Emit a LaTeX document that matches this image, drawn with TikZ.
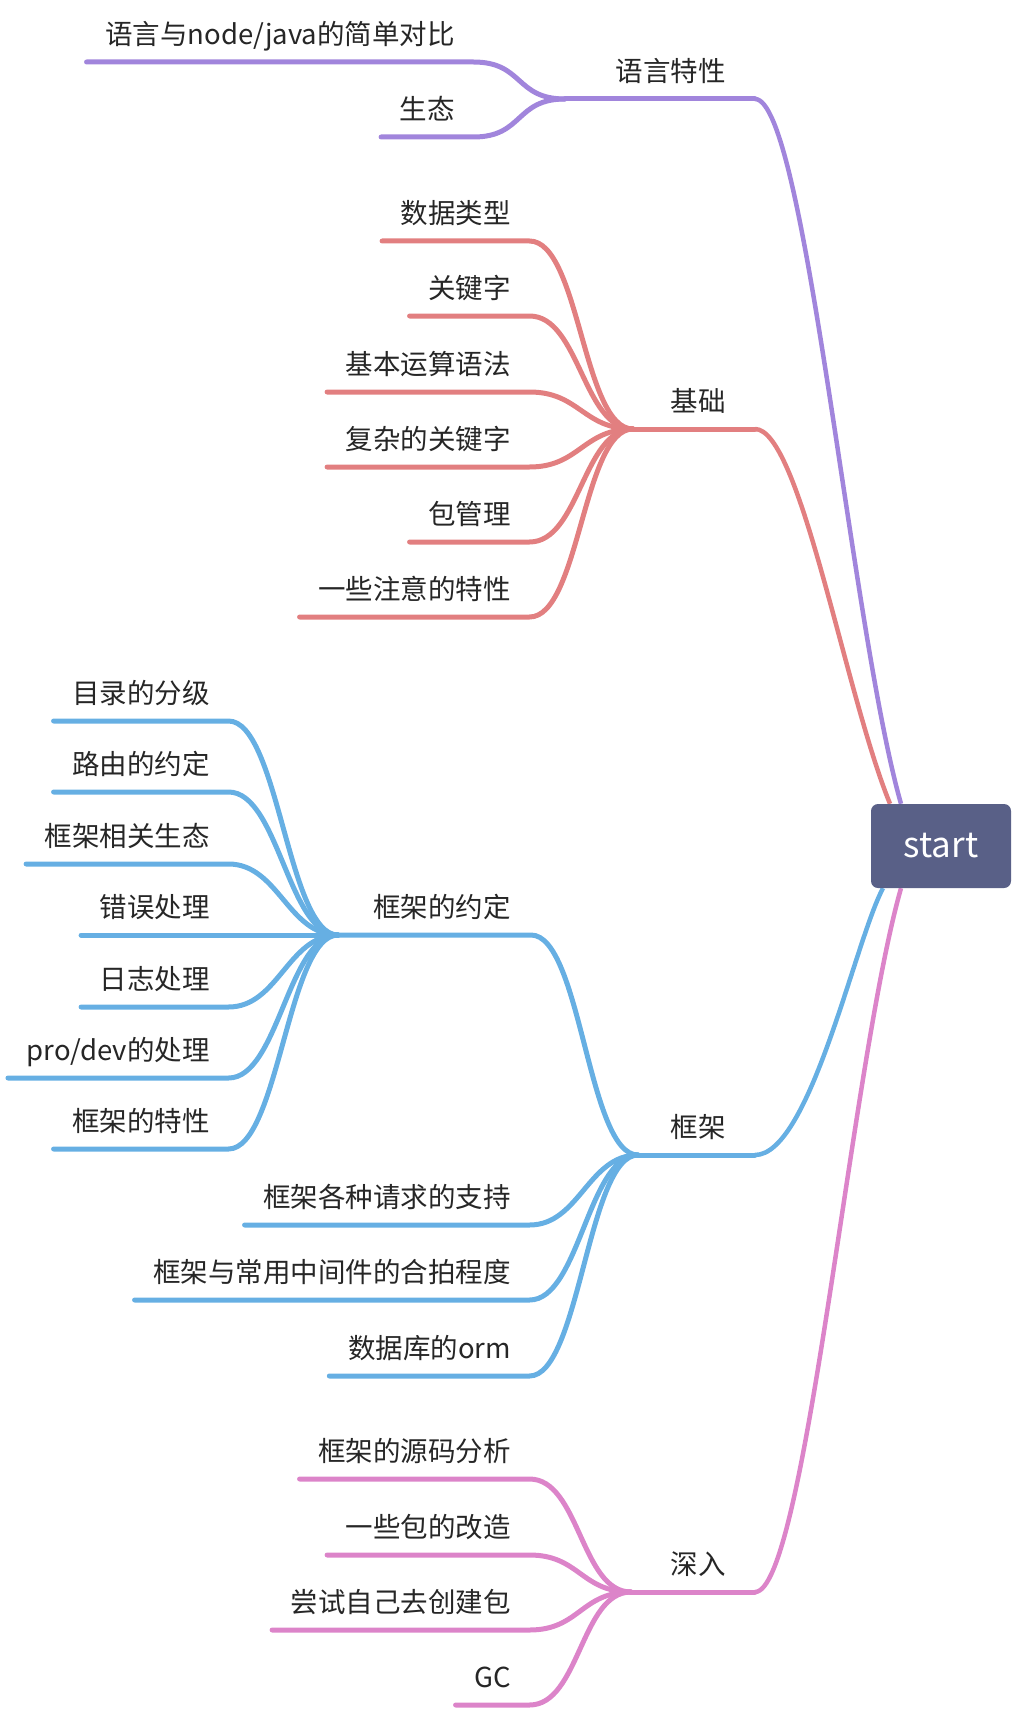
\documentclass[tikz,border=0pt]{standalone}
\usepackage{fontspec}
\setmainfont{Noto Sans CJK SC}
\usetikzlibrary{calc,backgrounds}
\definecolor{lilac}{HTML}{A185DC}
\definecolor{salmon}{HTML}{E27F80}
\definecolor{sky}{HTML}{66AFE3}
\definecolor{orchid}{HTML}{DC84C9}
\definecolor{rootblue}{HTML}{596087}
\definecolor{inkgray}{HTML}{262626}
\tikzset{
  txt/.style={font=\fontsize{27.5pt}{33pt}\selectfont, text=inkgray, inner ysep=0pt,
    text height=21pt, text depth=17.5pt, anchor=south east},
  leaf/.style={txt, inner xsep=18.5pt},
  mid/.style={txt, inner xsep=20pt},
  topic/.style={txt, inner xsep=29pt},
  root/.style={fill=rootblue, rounded corners=7pt, minimum width=140pt, minimum height=84pt,
    inner sep=0pt, text=white, font=\fontsize{35pt}{40pt}\selectfont},
  branch/.style={line width=5pt, line cap=round},
  trunk/.style={line width=4.5pt},
}
\begin{document}
\begin{tikzpicture}[x=1pt,y=-1pt]
  \useasboundingbox (0,0) rectangle (1016,1712);
  %%%%% ROOT %%%%%
  \node[root] (root) at (941,846) {start};
  %%%%% TOPICS %%%%%
  \node[topic] (lang) at (755,99) {语言特性};
  \node[topic] (basic) at (755,429) {基础};
  \node[topic] (frame) at (755,1155) {框架};
  \node[topic] (deep) at (755,1592) {深入};
  \node[mid] (rule) at (531,935) {框架的约定};
  \coordinate (langC) at (565,99);
  \coordinate (basicC) at (633,429);
  \coordinate (frameC) at (638,1155);
  \coordinate (deepC) at (631,1592);
  \coordinate (ruleC) at (338,935);
  %%%%% LEAVES %%%%%
  \node[leaf] (l1) at (473.5,62) {语言与node/java的简单对比};
  \node[leaf] (l2) at (473.5,137) {生态};
  \node[leaf] (b1) at (529.5,241) {数据类型};
  \node[leaf] (b2) at (529.5,316) {关键字};
  \node[leaf] (b3) at (529.5,392) {基本运算语法};
  \node[leaf] (b4) at (529.5,467) {复杂的关键字};
  \node[leaf] (b5) at (529.5,542) {包管理};
  \node[leaf] (b6) at (529.5,617) {一些注意的特性};
  \node[leaf] (r1) at (228.5,721) {目录的分级};
  \node[leaf] (r2) at (228.5,792) {路由的约定};
  \node[leaf] (r3) at (228.5,864) {框架相关生态};
  \node[leaf] (r4) at (228.5,935) {错误处理};
  \node[leaf] (r5) at (228.5,1007) {日志处理};
  \node[leaf] (r6) at (228.5,1078) {pro/dev的处理};
  \node[leaf] (r7) at (228.5,1149) {框架的特性};
  \node[leaf] (f1) at (529.5,1225) {框架各种请求的支持};
  \node[leaf] (f2) at (529.5,1300) {框架与常用中间件的合拍程度};
  \node[leaf] (f3) at (529.5,1376) {数据库的orm};
  \node[leaf] (d1) at (529.5,1479) {框架的源码分析};
  \node[leaf] (d2) at (529.5,1555) {一些包的改造};
  \node[leaf] (d3) at (529.5,1630) {尝试自己去创建包};
  \node[leaf] (d4) at (529.5,1705) {GC};
  %%%%% LINES %%%%%
  \begin{scope}[on background layer]
    \foreach \n/\c/\p in {l1/lilac/langC, l2/lilac/langC,
        b1/salmon/basicC, b2/salmon/basicC, b3/salmon/basicC,
        b4/salmon/basicC, b5/salmon/basicC, b6/salmon/basicC,
        r1/sky/ruleC, r2/sky/ruleC, r3/sky/ruleC, r4/sky/ruleC,
        r5/sky/ruleC, r6/sky/ruleC, r7/sky/ruleC,
        f1/sky/frameC, f2/sky/frameC, f3/sky/frameC,
        d1/orchid/deepC, d2/orchid/deepC, d3/orchid/deepC, d4/orchid/deepC}
      \draw[branch, \c] (\n.south west) -- (\n.south east)
        .. controls +(50,0) and +(-50,0) .. (\p);
    \draw[branch, sky] (ruleC) -- (rule.south east)
      .. controls +(50,0) and +(-50,0) .. (frameC);
    \draw[branch, lilac] (langC) -- (lang.south east);
    \draw[branch, salmon] (basicC) -- (basic.south east);
    \draw[branch, sky] (frameC) -- (frame.south east);
    \draw[branch, orchid] (deepC) -- (deep.south east);
    \draw[trunk, lilac] (lang.south east)
      .. controls +(50,0) and +(-50,-175) .. ([xshift=-40pt]root.north);
    \draw[trunk, salmon] (basic.south east)
      .. controls +(45,0) and +(-45,-110) .. ([xshift=-51pt]root.north);
    \draw[trunk, sky] (frame.south east)
      .. controls +(55,0) and +(-28,52) .. ([xshift=-58pt]root.south);
    \draw[trunk, orchid] (deep.south east)
      .. controls +(50,0) and +(-50,175) .. ([xshift=-40pt]root.south);
  \end{scope}
\end{tikzpicture}
\end{document}
